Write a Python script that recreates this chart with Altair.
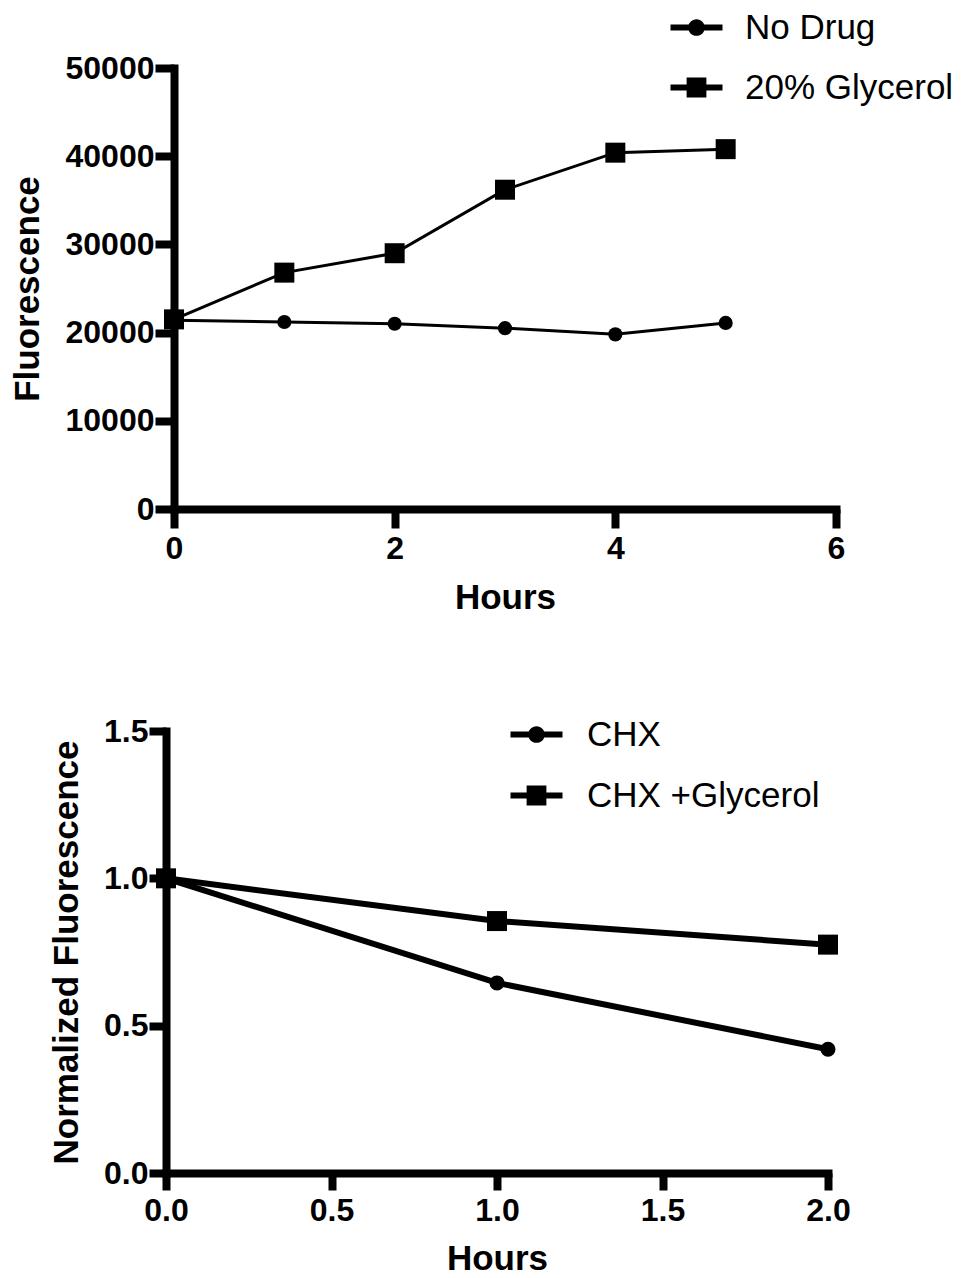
import altair as alt
import pandas as pd

# ---------------- data ----------------
hours_top = [0, 1, 2, 3, 4, 5]
no_drug = [21400, 21200, 21000, 20500, 19800, 21100]
glycerol = [21500, 26800, 29000, 36200, 40400, 40800]
top_series = ["No Drug", "20% Glycerol"]
top_yticks = [0, 10000, 20000, 30000, 40000, 50000]
top_xticks = [0, 2, 4, 6]

hours_bottom = [0, 1, 2]
chx = [1.0, 0.645, 0.42]
chx_glycerol = [1.0, 0.855, 0.775]
bottom_series = ["CHX", "CHX +Glycerol"]
bottom_yticks = [0.0, 0.5, 1.0, 1.5]
bottom_xticks = [0.0, 0.5, 1.0, 1.5, 2.0]

FONT = "Liberation Sans"

# legend symbols: line segment + marker; symbol box is [-1,1] (=26 px), path spans x in [-2,2]
LEG_CIRCLE = ("M-2,-0.23 L2,-0.23 L2,0.23 L-2,0.23 Z "
              "M0.64,0 A0.64,0.64 0 1,1 -0.64,0 A0.64,0.64 0 1,1 0.64,0 Z")
LEG_SQUARE = ("M-2,-0.23 L2,-0.23 L2,0.23 L-2,0.23 Z "
              "M-0.76,-0.76 L0.76,-0.76 L0.76,0.76 L-0.76,0.76 Z")
LEG_SIZE = 26 * 26

df_top = pd.DataFrame({
    "Hours": hours_top * 2,
    "Value": no_drug + glycerol,
    "Series": [top_series[0]] * len(hours_top) + [top_series[1]] * len(hours_top),
})
df_bottom = pd.DataFrame({
    "Hours": hours_bottom * 2,
    "Value": chx + chx_glycerol,
    "Series": [bottom_series[0]] * len(hours_bottom) + [bottom_series[1]] * len(hours_bottom),
})


def axis(values, title, fmt, tick, **kw):
    return alt.Axis(
        values=values, title=title, format=fmt, grid=False, labelFlush=False,
        domainColor="black", domainWidth=8, domainCap="square",
        tickColor="black", tickWidth=8, tickSize=tick,
        labelFont=FONT, labelFontSize=32, labelFontWeight="bold", labelColor="black",
        titleFont=FONT, titleFontSize=35, titleFontWeight="bold", titleColor="black",
        **kw,
    )


def panel(df, series, xdom, xrange, xticks, xfmt, ydom, yticks, yfmt, ytitle,
          tick, yoffset, ytitle_pad, xtitle_pad, line_w, circ_size, sq_size,
          leg_x, leg_y, leg_off, leg_rowpad, width, height):
    x = alt.X("Hours:Q",
              scale=alt.Scale(domain=xdom, range=xrange, nice=False, zero=False),
              axis=axis(xticks, "Hours", xfmt, tick, labelPadding=5, titlePadding=xtitle_pad))
    y = alt.Y("Value:Q",
              scale=alt.Scale(domain=ydom, nice=False),
              axis=axis(yticks, ytitle, yfmt, tick, offset=yoffset,
                        labelPadding=1, titlePadding=ytitle_pad))
    base = alt.Chart(df)
    lines = base.mark_line(color="black", strokeWidth=line_w).encode(
        x=x, y=y, detail="Series:N")
    circles = base.transform_filter(alt.datum.Series == series[0]).mark_point(
        shape="circle", filled=True, color="black", opacity=1, size=circ_size
    ).encode(x=x, y=y)
    squares = base.transform_filter(alt.datum.Series == series[1]).mark_point(
        shape="square", filled=True, color="black", opacity=1, size=sq_size
    ).encode(x=x, y=y)
    legend_layer = base.mark_point(filled=True, color="black", opacity=0, size=LEG_SIZE).encode(
        x=x, y=y,
        shape=alt.Shape("Series:N",
                        scale=alt.Scale(domain=series, range=[LEG_CIRCLE, LEG_SQUARE]),
                        legend=alt.Legend(
                            title=None, orient="none", legendX=leg_x, legendY=leg_y,
                            padding=0, symbolSize=LEG_SIZE, symbolOpacity=1,
                            symbolFillColor="black", symbolStrokeWidth=0,
                            labelFont=FONT, labelFontSize=35, labelFontWeight="normal",
                            labelColor="black", labelOffset=leg_off, rowPadding=leg_rowpad,
                            labelLimit=400)),
    )
    return alt.layer(lines, circles, squares, legend_layer).properties(
        width=width, height=height)


top = panel(df_top, top_series, [0, 6], [8, 670], top_xticks, "d",
            [0, 50000], top_yticks, "d", "Fluorescence",
            19, -8, 20, 16, 3, 201, 400, 513, -58, 31, 24, 670, 441)
bottom = panel(df_bottom, bottom_series, [0, 2], [0, 662], bottom_xticks, ".1f",
               [0, 1.5], bottom_yticks, ".1f", "Normalized Fluorescence",
               17, 0, 19, 15, 6, 227, 400, 353, -14, 33, 25, 670, 442)

chart = alt.vconcat(top, bottom, spacing=100).resolve_scale(
    shape="independent").resolve_legend(shape="independent").configure_view(
    stroke=None).properties(
    padding={"left": 10, "top": 10, "right": 0, "bottom": 0},
    background="white",
)

chart.save("out.html", embed_options={"renderer": "svg", "actions": False})
